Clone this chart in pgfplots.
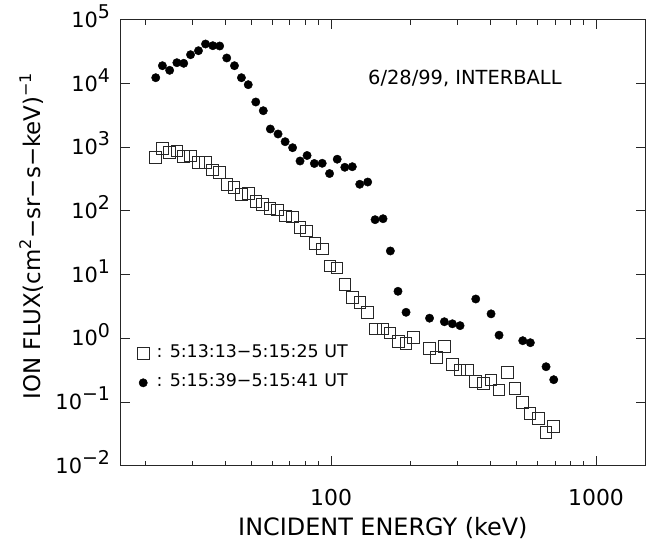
\documentclass[border=0pt]{standalone}
\usepackage{pgfplots}
\pgfplotsset{compat=1.18}
\usepackage{fontspec}
\setmainfont{DejaVu Sans}
% tick label 10^n with a big, raised exponent
\newcommand\ex[1]{10\raisebox{0.42em}{\fontsize{19}{19}\selectfont #1}}

\pgfplotstableread{
x y
21.8 12330
23.1 19030
24.6 16110
26.2 21210
27.8 20750
29.5 28320
31.6 32730
33.6 41700
35.8 39230
38.0 38780
40.4 25140
43.2 19030
45.9 12330
48.7 9580
52.0 5124
55.5 3741
59.0 1931
63.1 1612
67.1 1220
71.6 982
76.4 607
81.2 741
86.5 555
92.6 559
98.7 386
105.5 648
112.7 484
120.3 494
128.3 262
137.5 284
146.6 72.8
157.1 75.4
167.4 23.5
178.9 5.47
191.9 2.56
235.3 2.07
267.7 1.82
287.0 1.69
306.8 1.58
351.6 4.14
401.6 2.42
430.5 1.12
528.9 0.917
565.0 0.853
647.6 0.358
692.3 0.224
}\late

\pgfplotstableread{
x y
21.8 684
23.17 947
24.58 826
26.2 872
27.76 720
29.5 728
31.54 575
33.52 575
35.62 439
37.88 398
40.5 262
43.05 231
45.9 182
48.7 189
52.1 139
55.25 127
58.87 110
62.94 103
67.24 83.2
71.45 80.2
76.4 55.3
80.97 48.4
86.88 31.0
92.7 25.2
99.1 13.6
105.3 12.7
112.7 7.04
120.3 4.34
128.6 3.62
137.5 2.52
147.5 1.40
157.1 1.40
167.0 1.22
179.5 0.897
191.9 0.823
205.2 1.02
234.9 0.697
250.5 0.503
267.7 0.738
287.0 0.391
306.8 0.318
328.0 0.318
351.6 0.208
375.5 0.197
401.6 0.221
430.5 0.154
462.7 0.288
494.7 0.164
528.9 0.0975
563.5 0.0665
605.8 0.0555
647.6 0.033
692.3 0.041
}\early

\begin{document}
\begin{tikzpicture}
\begin{axis}[
    scale only axis, width=524.3bp, height=445.9bp,
    xmode=log, ymode=log,
    xmin=16.08, xmax=1530, ymin=1e-2, ymax=1e5,
    xtick={100,1000}, xticklabels={100,1000},
    minor xtick={20,30,40,50,60,70,80,90,200,300,400,500,600,700,800,900},
    ytick={1e-2,1e-1,1,10,100,1000,1e4,1e5},
    yticklabels={\ex{−2},\ex{−1},\ex{0},\ex{1},\ex{2},\ex{3},\ex{4},\ex{5}},
    yminorticks=false,
    tick align=inside, major tick length=9.5bp, minor tick length=5bp,
    axis line style={black!85, line width=1bp},
    every tick/.style={black!85, line width=1bp},
    xticklabel style={font=\fontsize{22}{22}\selectfont, anchor=base, inner sep=0pt, yshift=-40bp},
    yticklabel style={font=\fontsize{21}{21}\selectfont, anchor=base east, inner sep=0pt, xshift=-10.5bp, yshift=-7.5bp},
    xlabel={INCIDENT ENERGY (keV)},
    every axis x label/.style={at={(axis description cs:0.5,0)}, anchor=base, yshift=-70bp,
        font=\fontsize{24}{24}\selectfont},
    ylabel={ION FLUX(cm\textsuperscript{2}−sr−s−keV)\textsuperscript{−1}},
    every axis y label/.style={at={(axis description cs:0,0.515)}, xshift=-80.7bp, rotate=90,
        anchor=base, font=\fontsize{23}{23}\selectfont},
    legend style={at={(axis description cs:0.0315,0.2753)}, anchor=north west,
        draw=none, fill=none, inner sep=0pt, row sep=13bp,
        font=\fontsize{17.5}{17.5}\selectfont,
        nodes={inner sep=1bp}, cells={anchor=base west},
        /tikz/every odd column/.style={column sep=6.5bp}},
    legend image code/.code={\draw[#1] plot coordinates {(0bp,3.7bp)};},
  ]
  \addplot[only marks, mark=square, mark size=5.8bp,
      mark options={solid, draw=black!85, line width=1bp}] table {\early};
  \addlegendentry{: 5:13:13−5:15:25 UT}
  \addplot[only marks, mark=*, mark size=4.2bp,
      mark options={solid, fill=black, draw=black}] table {\late};
  \addlegendentry{: 5:15:39−5:15:41 UT}
  \node[anchor=base west, inner sep=0pt, font=\fontsize{19.5}{19.5}\selectfont]
    at (axis description cs:0.4717,0.8543) {6/28/99, INTERBALL};
\end{axis}
\pgfresetboundingbox
\path[use as bounding box] ([xshift=-120.7bp,yshift=-77.3bp]current axis.south west)
  rectangle ([xshift=2bp,yshift=19.8bp]current axis.north east);
\end{tikzpicture}
\end{document}
